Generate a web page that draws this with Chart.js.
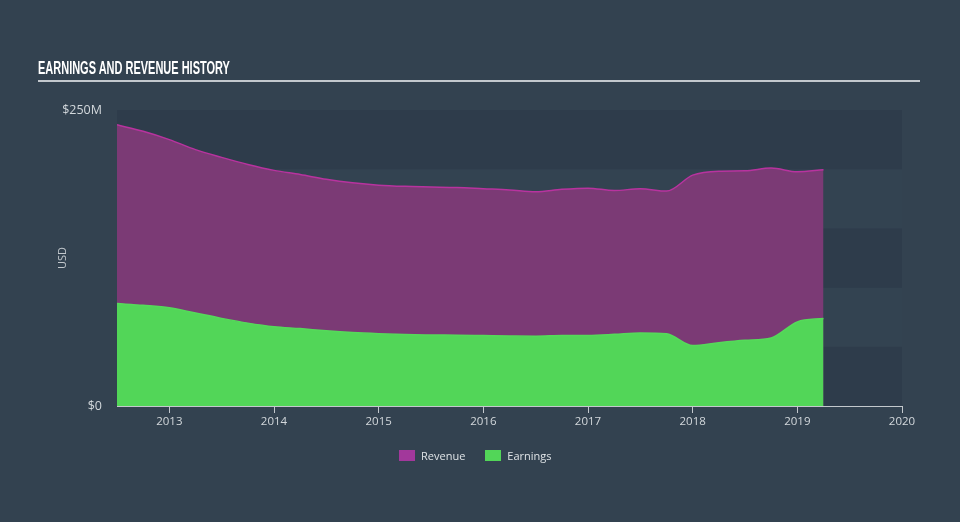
<!DOCTYPE html>
<html><head><meta charset="utf-8">
<script src="https://cdn.jsdelivr.net/npm/chart.js@4/dist/chart.umd.min.js"></script>
<style>
html,body{margin:0;padding:0;background:#334250;}
#wrap{position:relative;width:960px;height:522px;overflow:hidden;background:#334250;}
#title{position:absolute;left:38px;top:58px;font-family:"Liberation Sans Narrow","Liberation Sans",sans-serif;font-weight:bold;font-size:19px;line-height:19px;color:#ffffff;white-space:nowrap;transform-origin:0 0;}
#rule{position:absolute;left:38px;top:80px;width:882px;height:2px;background:#c3c8cd;}
canvas{position:absolute;left:0;top:0;}
#legend{position:absolute;left:399px;top:449px;height:13px;display:flex;align-items:center;font-family:"Open Sans",sans-serif;font-size:11px;color:#dfe3e6;white-space:nowrap;}
#legend .sw{display:inline-block;width:16px;height:11px;margin-right:6px;}
#legend .item{display:flex;align-items:center;margin-right:20px;}
</style>
</head><body>
<div id="wrap">
  <canvas id="c" width="960" height="522"></canvas>
  <span id="title">EARNINGS AND REVENUE HISTORY</span>
  <div id="rule"></div>
  <div id="legend">
    <span class="item"><span class="sw" style="background:#a2389b"></span>Revenue</span>
    <span class="item"><span class="sw" style="background:#52d658"></span>Earnings</span>
  </div>
</div>
<script>
// ---- data (USD millions, period end as decimal year) ----
const periods  = [2012.5, 2012.75, 2013.0, 2013.25, 2013.5, 2013.75, 2014.0, 2014.25, 2014.5, 2014.75,
                  2015.0, 2015.25, 2015.5, 2015.75, 2016.0, 2016.25, 2016.5, 2016.75, 2017.0, 2017.25,
                  2017.5, 2017.75, 2018.0, 2018.25, 2018.5, 2018.75, 2019.0, 2019.25];
const revenue  = [237.5, 232, 225, 216.5, 210, 204, 199, 195.5, 191.5, 188.5,
                  186.5, 185.5, 185, 184.5, 183.5, 182.5, 181, 183, 184, 182,
                  183.5, 181.5, 195, 198.3, 198.6, 201, 197.8, 199.5];
const earnings = [86.5, 85, 83, 78.5, 74, 70, 67, 65.4, 63.5, 62,
                  61, 60.3, 60, 59.8, 59.5, 59.2, 59, 59.5, 59.6, 60.5,
                  61.7, 61, 51, 53.5, 55.5, 57.5, 71, 74];
const xTicks = [2013, 2014, 2015, 2016, 2017, 2018, 2019, 2020];
const yTicks = [0, 250];
const bandStep = 50;

const toPts = (vals) => periods.map((p, i) => ({x: p, y: vals[i]}));

const bands = {
  id: 'bands',
  beforeDatasetsDraw(chart) {
    const {ctx, chartArea: a, scales: {y}} = chart;
    ctx.save();
    for (let v = 0, i = 0; v < y.max; v += bandStep, i++) {
      const top = y.getPixelForValue(v + bandStep), bot = y.getPixelForValue(v);
      ctx.fillStyle = (i % 2 === 0) ? '#2e3c4b' : '#334351';
      ctx.fillRect(a.left, top, a.right - a.left, bot - top);
    }
    ctx.restore();
  }
};

const tickFont = {family: '"Open Sans", sans-serif', size: 11.5};
new Chart(document.getElementById('c'), {
  type: 'line',
  data: {
    datasets: [
      {label: 'Revenue', data: toPts(revenue), order: 2, fill: 'origin',
       backgroundColor: '#7b3a75', borderColor: '#b8339f', borderWidth: 1.5,
       pointRadius: 0, cubicInterpolationMode: 'monotone'},
      {label: 'Earnings', data: toPts(earnings), order: 1, fill: 'origin',
       backgroundColor: '#52d658', borderColor: '#55da5a', borderWidth: 1.5,
       pointRadius: 0, cubicInterpolationMode: 'monotone'}
    ]
  },
  options: {
    responsive: false, animation: false, devicePixelRatio: 1,
    layout: {padding: {left: 0, right: 58, top: 110, bottom: 86}},
    plugins: {legend: {display: false}, tooltip: {enabled: false}},
    scales: {
      x: {
        type: 'linear', min: 2012.5, max: 2020,
        afterBuildTicks: (s) => { s.ticks = xTicks.map(v => ({value: v})); },
        afterFit: (s) => { s.height = 30; },
        ticks: {callback: (v) => String(v), color: '#d3d8dc', font: tickFont, padding: 2, maxRotation: 0, autoSkip: false},
        grid: {drawOnChartArea: false, drawTicks: true, tickLength: 7, color: '#c3c8cd', lineWidth: 1},
        border: {display: true, color: '#c3c8cd', width: 1}
      },
      y: {
        min: 0, max: 250,
        afterBuildTicks: (s) => { s.ticks = yTicks.map(v => ({value: v})); },
        afterFit: (s) => { s.width = 117; },
        ticks: {callback: (v) => v === 0 ? '$0' : '$' + v + 'M', color: '#d3d8dc', font: {family: '"Open Sans", sans-serif', size: 12.5}, padding: 15},
        grid: {display: false, drawTicks: false},
        border: {display: false},
        title: {display: true, text: 'USD', color: '#c3c8cd', font: {family: '"Open Sans", sans-serif', size: 11}, padding: {top: 56, bottom: 0}}
      }
    }
  },
  plugins: [bands]
});

const t = document.getElementById('title');
const w = t.offsetWidth;
t.style.transform = 'scaleX(' + (192 / w) + ')';
</script>
</body></html>
